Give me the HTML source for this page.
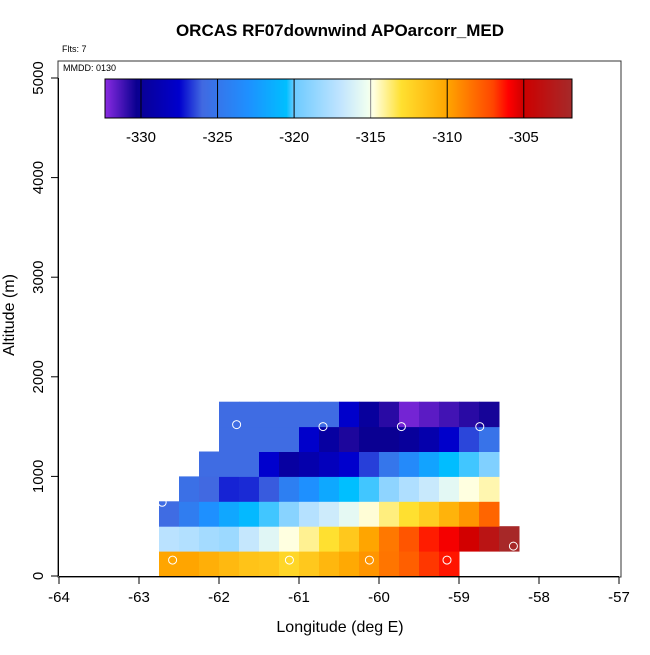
<!DOCTYPE html>
<html><head><meta charset="utf-8"><style>
body{margin:0;background:#fff}
svg text{font-family:"Liberation Sans",sans-serif}
</style></head><body>
<svg id="c" width="650" height="650" xmlns="http://www.w3.org/2000/svg">
<text x="340" y="36" text-anchor="middle" font-size="17" font-weight="bold">ORCAS RF07downwind APOarcorr_MED</text>
<text x="62" y="52" font-size="9">Flts: 7</text>
<text x="63" y="71" font-size="9">MMDD: 0130</text>
<rect x="58" y="61" width="563" height="516" fill="none" stroke="#333" stroke-width="1"/>
<g id="cells"></g>
<g id="pts"></g>
<g id="axes"></g>
<g id="cbar"></g>
<text x="340" y="632" text-anchor="middle" font-size="16">Longitude (deg E)</text>
<text transform="translate(14,315) rotate(-90)" text-anchor="middle" font-size="16">Altitude (m)</text>
</svg>
<script>
const lonStart = -62.75, lonStep = 0.25, altStep = 250;
const rows = [
 [-310,-310,-310.5,-311,-311.5,-311.7,-312.5,-311.8,-310.9,-310.2,-309.5,-308.5,-307.8,-306.8,-306.3,null,null,null],
 [-317.2,-317.5,-318,-318.3,-316.8,-315.8,-314.8,-314,-313,-311.8,-310,-308.6,-307.5,-306.4,-305.8,-305.1,-303.5,-302],
 [-325.8,-324.5,-323,-321.8,-320.8,-320.2,-319,-317.4,-316.5,-315.6,-314.7,-313.8,-313,-312,-310.7,-309.5,-308,null],
 [null,-325.5,-326,-327,-326.9,-326.2,-324.3,-323,-321.7,-320.5,-320.2,-318.8,-317.6,-316.7,-315.7,-314.8,-314.3,null],
 [null,null,-325.8,-325.8,-325.8,-327.5,-329.5,-329,-328.3,-327.5,-326.6,-325,-323.5,-322,-320.6,-320.2,-319.3,null],
 [null,null,null,-325.8,-325.8,-325.8,-325.8,-327.6,-329.5,-330.6,-330.2,-330.2,-329.8,-329,-327.6,-326.5,-325.2,null],
 [null,null,null,-325.8,-325.8,-325.8,-325.8,-325.8,-325.8,-327.6,-329.7,-330.8,-332,-331.6,-331.2,-330.8,-330.5,null]
];
const ptLon = [-62.58,-61.12,-60.12,-59.15,-58.32,-62.71,-61.78,-60.7,-59.72,-58.74];
const ptAlt = [160,160,160,160,300,740,1520,1500,1500,1500];
const xTicks = [-64,-63,-62,-61,-60,-59,-58,-57];
const yTicks = [0,1000,2000,3000,4000,5000];
const cbTicks = [-330,-325,-320,-315,-310,-305];
const cbMin = -332.35, cbMax = -301.85;
const stops = [[-332.35,'#8a2be2'],[-330.3,'#0a0090'],[-327.5,'#0000cd'],[-326,'#4169e1'],[-323,'#1e90ff'],[-320.5,'#00bfff'],[-320,'#6ccaff'],[-317,'#c0e4ff'],[-315.2,'#f0fff0'],[-314.8,'#ffffe0'],[-313,'#ffe030'],[-310,'#ffa500'],[-307,'#ff4500'],[-306,'#ff0000'],[-305,'#cd0000'],[-301.85,'#a52a2a']];

const NS='http://www.w3.org/2000/svg';
const X = lon => 59 + (lon + 64) * 80;
const Y = alt => 576 - alt * 0.0996;
const CB = v => 105 + (v - cbMin) / (cbMax - cbMin) * 467;
function hex(h){return [1,3,5].map(i=>parseInt(h.substr(i,2),16));}
function color(v){
  if(v<=stops[0][0]) return stops[0][1];
  for(let i=1;i<stops.length;i++){
    if(v<=stops[i][0]){
      const a=hex(stops[i-1][1]),b=hex(stops[i][1]),t=(v-stops[i-1][0])/(stops[i][0]-stops[i-1][0]);
      return 'rgb('+a.map((c,k)=>Math.round(c+(b[k]-c)*t)).join(',')+')';
    }
  }
  return stops[stops.length-1][1];
}
function mk(tag,attrs,parent){const e=document.createElementNS(NS,tag);for(const k in attrs)e.setAttribute(k,attrs[k]);parent.appendChild(e);return e;}

const cells=document.getElementById('cells');
rows.forEach((row,r)=>row.forEach((v,c)=>{
  if(v===null) return;
  const x0=X(lonStart+c*lonStep), x1=X(lonStart+(c+1)*lonStep);
  const y0=Y((r+1)*altStep), y1=Y(r*altStep);
  const e=mk('rect',{x:x0,y:y0,width:x1-x0+0.5,height:y1-y0+0.5,fill:color(v)},cells);
  
  
}));
const pts=document.getElementById('pts');
ptLon.forEach((lon,i)=>{
  const e=mk('circle',{cx:X(lon),cy:Y(ptAlt[i]),r:4,fill:'none',stroke:'#fff','stroke-width':1},pts);
  
  
});
const ax=document.getElementById('axes');
mk('line',{x1:X(-64),x2:X(-57),y1:576.5,y2:576.5,stroke:'#000'},ax);
xTicks.forEach(t=>{
  mk('line',{x1:X(t),x2:X(t),y1:577,y2:584,stroke:'#000'},ax);
  const e=mk('text',{x:X(t),y:602,'text-anchor':'middle','font-size':15},ax);
  e.textContent=t;
  
  
});
mk('line',{x1:58.5,x2:58.5,y1:Y(0),y2:Y(5000),stroke:'#000'},ax);
yTicks.forEach(t=>{
  mk('line',{x1:51,x2:58,y1:Y(t),y2:Y(t),stroke:'#000'},ax);
  const e=mk('text',{transform:'translate(43,'+Y(t)+') rotate(-90)','text-anchor':'middle','font-size':15},ax);
  e.textContent=t;
  
  
});
const cb=document.getElementById('cbar');
for(let px=105;px<572;px++){
  const v=cbMin+(px+0.5-105)/467*(cbMax-cbMin);
  mk('rect',{x:px,y:79,width:1.2,height:39,fill:color(v)},cb);
}
cbTicks.forEach(t=>{
  mk('line',{x1:CB(t),x2:CB(t),y1:79,y2:118,stroke:t===-315?'#888':'#000','stroke-width':1},cb);
  const e=mk('text',{x:CB(t),y:142,'text-anchor':'middle','font-size':15},cb);
  e.textContent=t;
  
  
});
mk('rect',{x:105,y:79,width:467,height:39,fill:'none',stroke:'#000','stroke-width':1},cb);
</script>
</body></html>
